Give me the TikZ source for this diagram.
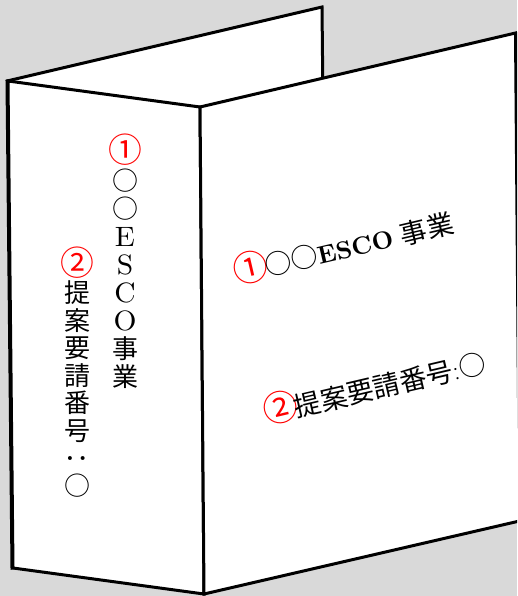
\documentclass[tikz,border=0pt]{standalone}
\usepackage{fontspec}
\newfontfamily\cjk{Noto Sans CJK JP}
\newcommand\jp[1]{{\cjk #1}}
% circled numbers, enlarged to the size of the full-width glyphs
\newcommand\circnum[1]{\makebox[1em][c]{\color{red}\cjk\scalebox{1.3}{#1}}}
% Latin capitals in the vertical spine text: 10pt design, widened to full-width size
\newcommand\tatelatin[1]{\scalebox{2.95}[2.8]{\fontsize{10}{12}\selectfont #1}}
\newcommand\spinefontA{\fontsize{26}{28}\selectfont\lineskiplimit=-20pt\relax}
\newcommand\spinefontB{\fontsize{26}{27.5}\selectfont\lineskiplimit=-20pt\relax}
\newcommand\frontfont{\fontsize{27}{30}\selectfont}
\definecolor{bggray}{RGB}{217,217,217}
\tikzset{
  edge/.style={line width=3pt, line join=miter},
  panel/.style={edge, fill=white},
  spinetext/.style={align=center, inner sep=0pt},
  fronttext/.style={font=\frontfont, inner sep=0pt, rotate=13.2}
}
\begin{document}
\begin{tikzpicture}[x=1pt,y=-1pt]
  \useasboundingbox (0,0) rectangle (517,596);
  \clip (0,0) rectangle (517,596);
  \fill[bggray] (0,0) rectangle (517,596);

  % binder corners
  \coordinate (spineTL) at (8,81);
  \coordinate (spineTR) at (200,107);
  \coordinate (spineBR) at (204,594);
  \coordinate (spineBL) at (13,568);
  \coordinate (backTR) at (322,7);
  \coordinate (backBR) at (327,500);
  \coordinate (frontTR) at (515.5,33);
  \coordinate (frontBR) at (519.5,521);

  % back cover, then spine and front cover over it
  \draw[panel] ([xshift=-1pt]spineTL) -- (backTR) -- (backBR) -- ([xshift=-1pt]spineBL) -- cycle;
  \draw[panel] (spineTL) -- (spineTR) -- (spineBR) -- (spineBL) -- cycle;
  \draw[panel] (spineTR) -- (frontTR) -- (frontBR) -- (spineBR) -- cycle;

  % spine labels, set vertically
  \node[spinetext, font=\spinefontA] (spineA) at (125,261)
    {\circnum{①}\\\jp{○}\\\jp{○}\\\tatelatin{E}\\\tatelatin{S}\\\tatelatin{C}\\\tatelatin{O}\\\jp{事}\\\jp{業}};
  \node[spinetext, font=\spinefontB] (spineB) at (77,372)
    {\circnum{②}\\\jp{提}\\\jp{案}\\\jp{要}\\\jp{請}\\\jp{番}\\\jp{号}\\\rotatebox[origin=c]{90}{\jp{：}}\\\jp{○}};

  % front cover labels
  \node[fronttext] (title) at (345,245)
    {\circnum{①}\jp{○○}\scalebox{2.5}{\fontsize{10}{12}\selectfont\bfseries ESCO} \jp{事業}};
  \node[fronttext] (number) at (376,385)
    {\circnum{②}\jp{提案要請番号}:\jp{○}};
\end{tikzpicture}
\end{document}
